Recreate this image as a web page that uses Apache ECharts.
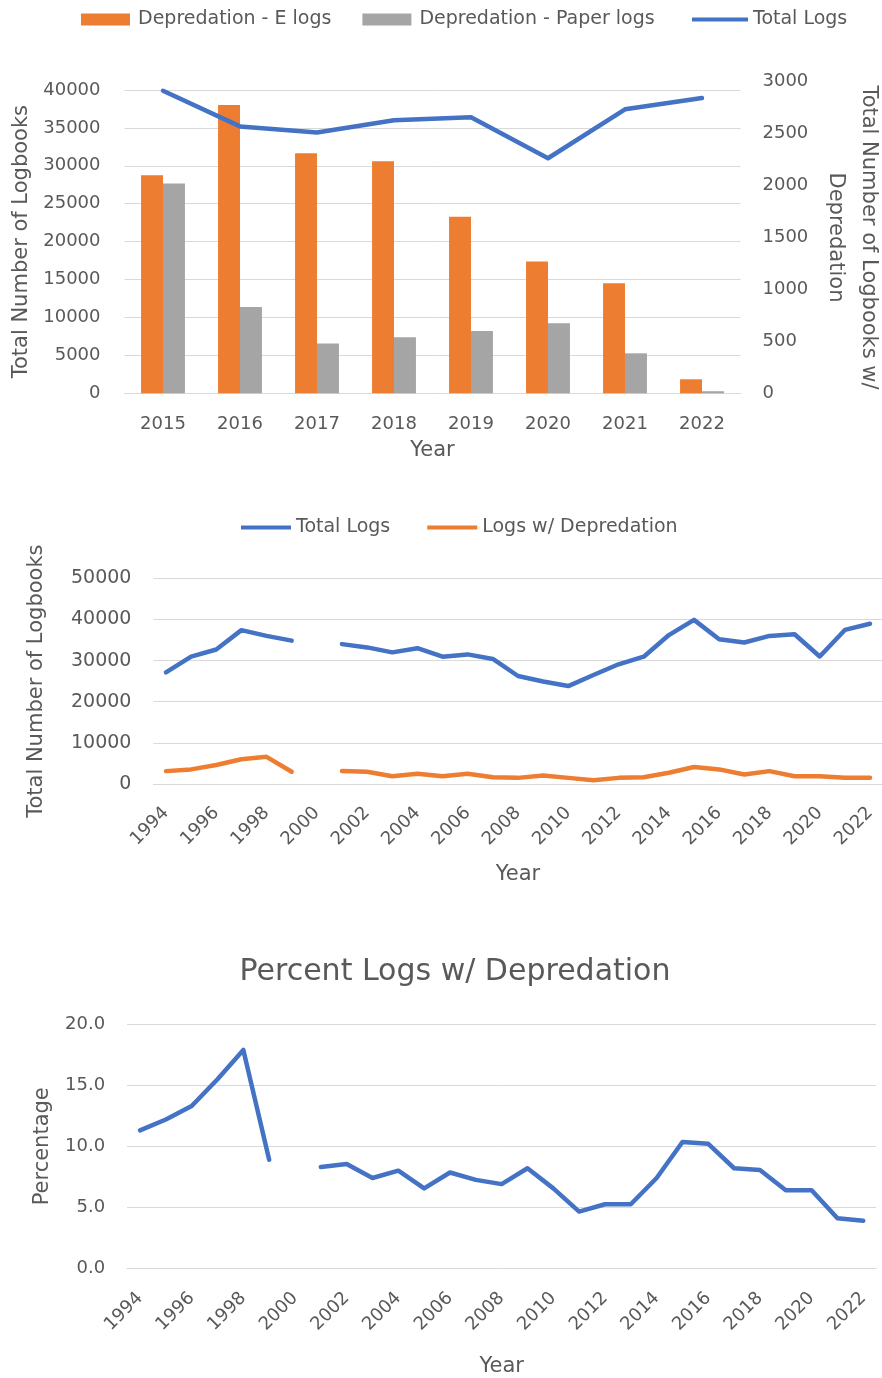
<!DOCTYPE html>
<html>
<head>
<meta charset="utf-8">
<script src="https://cdn.jsdelivr.net/npm/echarts@6/dist/echarts.min.js"></script>
<style>
html,body{margin:0;padding:0;background:#fff;}
#c{width:882px;height:1378px;}
</style>
</head>
<body>
<div id="c"></div>
<script>
// ---- Data ----
const barYears = ['2015','2016','2017','2018','2019','2020','2021','2022'];
const eLogs = [2100, 2775, 2310, 2235, 1700, 1270, 1060, 135];
const paperLogs = [2020, 830, 480, 540, 600, 675, 385, 20];

const years = ['1994','1995','1996','1997','1998','1999','2000','2001','2002','2003','2004','2005','2006','2007','2008','2009','2010','2011','2012','2013','2014','2015','2016','2017','2018','2019','2020','2021','2022'];
const totalLogs = [27150, 30950, 32700, 37400, 36000, 34850, null, 34000, 33200, 32000, 33000, 30950, 31500, 30400, 26250, 24900, 23800, 26500, 29100, 30950, 36200, 39900, 35200, 34400, 36000, 36400, 31000, 37450, 38950];
const depLogs = [3130, 3550, 4620, 6030, 6600, 2980, null, 3130, 2980, 1890, 2480, 1890, 2480, 1640, 1490, 2060, 1490, 890, 1490, 1640, 2730, 4120, 3550, 2310, 3130, 1890, 1890, 1490, 1490];
const percentDep = [11.3, 12.2, 13.3, 15.5, 17.9, 8.9, null, 8.3, 8.55, 7.4, 8.0, 6.55, 7.85, 7.25, 6.9, 8.2, 6.55, 4.65, 5.25, 5.25, 7.4, 10.35, 10.2, 8.2, 8.05, 6.4, 6.4, 4.1, 3.9];

const totalLogsBarYears = totalLogs.slice(years.indexOf('2015'));

// ---- Style ----
const FONT = 'DejaVu Sans';
const TXT = '#595959';
const GRID = '#D9D9D9';
const BLUE = '#4472C4', ORANGE = '#ED7D31', GREY = '#A5A5A5';
const plain = v => String(v);

function catAxis(gridIndex, data, extra) {
  return Object.assign({
    type: 'category', gridIndex, data,
    axisTick: { show: false },
    axisLine: { lineStyle: { color: GRID, width: 1 } },
    axisLabel: { color: TXT, fontFamily: FONT, fontSize: 18 },
    nameLocation: 'middle',
    nameTextStyle: { color: TXT, fontFamily: FONT, fontSize: 21 }
  }, extra);
}
function valAxis(gridIndex, extra) {
  return Object.assign({
    type: 'value', gridIndex,
    axisLine: { show: false }, axisTick: { show: false },
    splitLine: { lineStyle: { color: GRID, width: 1 } },
    axisLabel: { color: TXT, fontFamily: FONT, fontSize: 18 },
    nameLocation: 'middle',
    nameTextStyle: { color: TXT, fontFamily: FONT, fontSize: 21 }
  }, extra);
}
const lineStyle = (c, w) => ({ color: c, width: w, cap: 'round', join: 'round' });

const chart = echarts.init(document.getElementById('c'), null, { renderer: 'canvas' });
chart.setOption({
  animation: false,
  backgroundColor: '#fff',
  textStyle: { fontFamily: FONT },
  title: [{
    text: 'Percent Logs w/ Depredation',
    left: 450, top: 952, textAlign: 'center',
    textStyle: { fontFamily: FONT, fontSize: 30, fontWeight: 'normal', color: TXT }
  }],
  legend: [
    { data: ['Depredation - E logs', 'Depredation - Paper logs'], left: 76, top: 5,
      icon: 'rect', itemWidth: 49, itemHeight: 12, itemGap: 31,
      textStyle: { color: TXT, fontFamily: FONT, fontSize: 19, padding: [0,0,0,3] } },
    { data: ['Total Logs'], left: 687, top: 5, icon: 'rect', itemWidth: 56, itemHeight: 4,
      textStyle: { color: TXT, fontFamily: FONT, fontSize: 19 } },
    { data: [{name: 'Total Logs'}, {name: 'Logs w/ Depredation'}], left: 236, top: 513, icon: 'rect',
      itemWidth: 50, itemHeight: 4, itemGap: 37,
      textStyle: { color: TXT, fontFamily: FONT, fontSize: 19 } }
  ],
  grid: [
    { left: 124.5, width: 616, top: 90, height: 303.3, outerBoundsMode: 'none', containLabel: false },
    { left: 124.5, width: 616, top: 81.7, height: 311.6, outerBoundsMode: 'none', containLabel: false },
    { left: 153.4, width: 729.2, top: 578.3, height: 205.7, outerBoundsMode: 'none', containLabel: false },
    { left: 127.1, width: 749.1, top: 1024.3, height: 244, outerBoundsMode: 'none', containLabel: false }
  ],
  xAxis: [
    catAxis(0, barYears, { name: 'Year', nameGap: 47, axisLabel: { color: TXT, fontFamily: FONT, fontSize: 18, margin: 22 } }),
    catAxis(1, barYears, { show: false }),
    catAxis(2, years, { name: 'Year', nameGap: 80,
      axisLabel: { color: TXT, fontFamily: FONT, fontSize: 18, rotate: 45, interval: 1, margin: 26 } }),
    catAxis(3, years, { name: 'Year', nameGap: 88,
      axisLabel: { color: TXT, fontFamily: FONT, fontSize: 18, rotate: 45, interval: 1, margin: 27 } })
  ],
  yAxis: [
    valAxis(0, { min: 0, max: 40000, interval: 5000, name: 'Total Number of Logbooks', nameGap: 90,
      axisLabel: { color: TXT, fontFamily: FONT, fontSize: 18, margin: 24, formatter: plain } }),
    valAxis(1, { min: 0, max: 3000, interval: 500, position: 'right', splitLine: { show: false },
      name: 'Total Number of Logbooks w/\nDepredation', nameRotate: -90, nameGap: 76,
      nameTextStyle: { color: TXT, fontFamily: FONT, fontSize: 21, lineHeight: 33 },
      axisLabel: { color: TXT, fontFamily: FONT, fontSize: 18, margin: 22, formatter: plain } }),
    valAxis(2, { min: 0, max: 50000, interval: 10000, name: 'Total Number of Logbooks', nameGap: 106,
      axisLabel: { color: TXT, fontFamily: FONT, fontSize: 19, margin: 22, formatter: plain } }),
    valAxis(3, { min: 0, max: 20, interval: 5, name: 'Percentage', nameGap: 74,
      axisLabel: { color: TXT, fontFamily: FONT, fontSize: 18, margin: 22, formatter: v => v.toFixed(1) } })
  ],
  series: [
    { name: 'Depredation - E logs', type: 'bar', xAxisIndex: 1, yAxisIndex: 1, data: eLogs,
      itemStyle: { color: ORANGE }, barGap: '0%', barCategoryGap: '43%', z: 2 },
    { name: 'Depredation - Paper logs', type: 'bar', xAxisIndex: 1, yAxisIndex: 1, data: paperLogs,
      itemStyle: { color: GREY }, barGap: '0%', barCategoryGap: '43%', z: 2 },
    { name: 'Total Logs', type: 'line', xAxisIndex: 0, yAxisIndex: 0, data: totalLogsBarYears,
      symbol: 'none', lineStyle: lineStyle(BLUE, 4.5), itemStyle: { color: BLUE }, z: 5 },
    { name: 'Total Logs', type: 'line', xAxisIndex: 2, yAxisIndex: 2, data: totalLogs,
      symbol: 'none', lineStyle: lineStyle(BLUE, 4.5), itemStyle: { color: BLUE }, z: 5 },
    { name: 'Logs w/ Depredation', type: 'line', xAxisIndex: 2, yAxisIndex: 2, data: depLogs,
      symbol: 'none', lineStyle: lineStyle(ORANGE, 4.5), itemStyle: { color: ORANGE }, z: 5 },
    { name: 'Percent Logs w/ Depredation', type: 'line', xAxisIndex: 3, yAxisIndex: 3, data: percentDep,
      symbol: 'none', lineStyle: lineStyle(BLUE, 4.5), itemStyle: { color: BLUE }, z: 5 }
  ]
});
</script>
</body>
</html>
